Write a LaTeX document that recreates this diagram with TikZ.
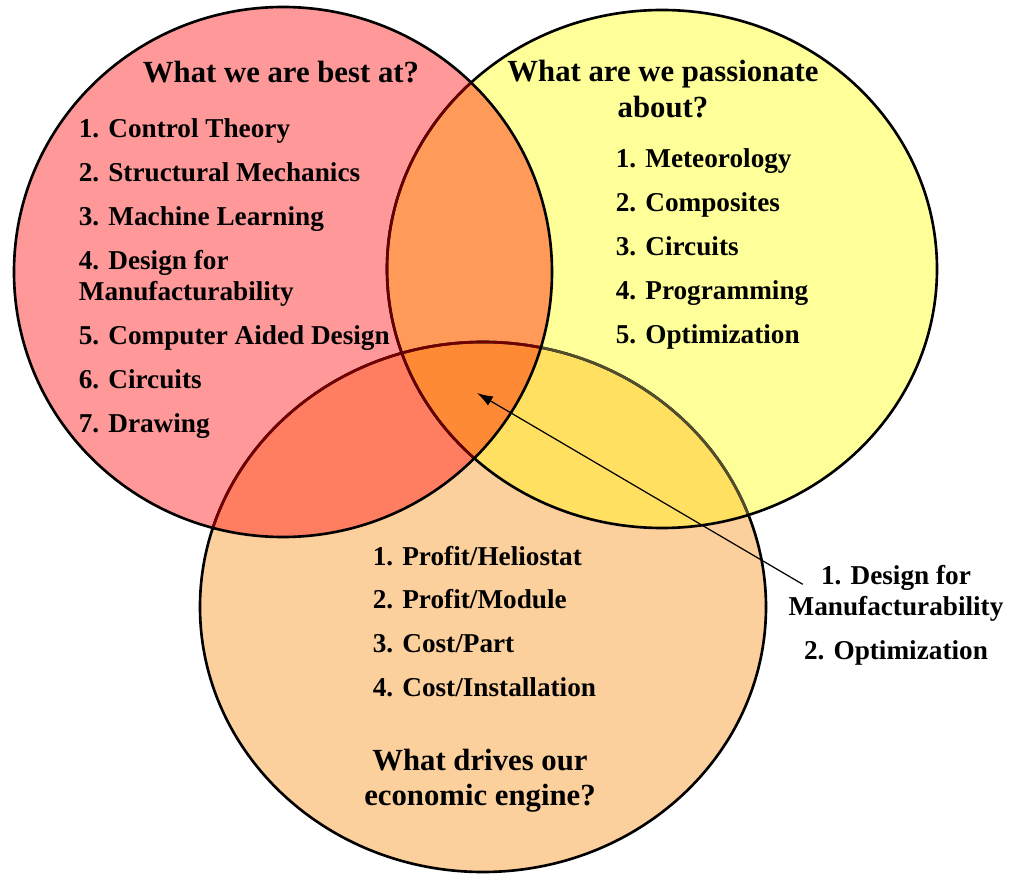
\documentclass[tikz,border=0pt]{standalone}
\usepackage{fontspec}
\setmainfont{Liberation Serif}
\usepackage{xcolor}
\usetikzlibrary{arrows.meta}

\definecolor{bestred}{HTML}{FF9999}
\definecolor{passionyellow}{HTML}{FFFF99}
\definecolor{engineorange}{HTML}{FCD09C}
\definecolor{bestpassion}{HTML}{FF9A58}
\definecolor{bestengine}{HTML}{FF7D60}
\definecolor{passionengine}{HTML}{FFE060}
\definecolor{allthree}{HTML}{FF8A35}

\newcommand{\bestcirc}{(283,272) ellipse [x radius=269, y radius=265]}
\newcommand{\passioncirc}{(662,269) ellipse [x radius=275, y radius=259]}
\newcommand{\enginecirc}{(483,607) ellipse [x radius=283, y radius=265]}

\begin{document}
\begin{tikzpicture}[x=0.02cm,y=-0.02cm,
    txt/.style={font=\fontsize{15.5}{17.5}\selectfont\bfseries,inner sep=2pt},
    title/.style={font=\fontsize{17.5}{20}\selectfont\bfseries,align=center,inner sep=2pt},
    rim/.style={line width=1.5pt}]
  \useasboundingbox (0,0) rectangle (1009,875);

  \fill[bestred] \bestcirc;
  \fill[passionyellow] \passioncirc;
  \fill[engineorange] \enginecirc;
  \begin{scope}
    \clip \bestcirc;
    \fill[bestpassion] \passioncirc;
    \fill[bestengine] \enginecirc;
  \end{scope}
  \begin{scope}
    \clip \passioncirc;
    \fill[passionengine] \enginecirc;
    \clip \bestcirc;
    \fill[allthree] \enginecirc;
  \end{scope}

  % rims, lower ones show through the fills above
  \draw[rim] \enginecirc;
  \begin{scope}
    \clip \passioncirc;
    \draw[rim,color=black!55!olive] \enginecirc;
  \end{scope}
  \begin{scope}
    \clip \bestcirc;
    \draw[rim,color=black!55!red] \enginecirc;
  \end{scope}
  \draw[rim] \passioncirc;
  \begin{scope}
    \clip \bestcirc;
    \draw[rim,color=black!60!red] \passioncirc;
  \end{scope}
  \draw[rim] \bestcirc;

  \node[title] (best) at (281,72) {What we are best at?};
  \node[txt,align=left,anchor=north west] (bestlist) at (75,115)
    {1. Control Theory\\[7.5pt]
     2. Structural Mechanics\\[7.5pt]
     3. Machine Learning\\[7.5pt]
     4. Design for\\
     Manufacturability\\[7.5pt]
     5. Computer Aided Design\\[7.5pt]
     6. Circuits\\[7.5pt]
     7. Drawing};

  \node[title] (passion) at (663,89) {What are we passionate\\about?};
  \node[txt,align=left,anchor=north west] (passionlist) at (612,145)
    {1. Meteorology\\[7.5pt]
     2. Composites\\[7.5pt]
     3. Circuits\\[7.5pt]
     4. Programming\\[7.5pt]
     5. Optimization};

  \node[txt,align=left,anchor=north west] (enginelist) at (369,542)
    {1. Profit/Heliostat\\[7.5pt]
     2. Profit/Module\\[7.5pt]
     3. Cost/Part\\[7.5pt]
     4. Cost/Installation};
  \node[title] (engine) at (480,781) {What drives our\\economic engine?};

  \node[txt,align=center] (overlap) at (896,615)
    {1. Design for\\
     Manufacturability\\[7.5pt]
     2. Optimization};

  \coordinate (core) at (477,393);
  \draw[line width=0.7pt,-{Latex[length=9pt,width=6pt]}]
    ([shift={(18,23)}]overlap.north west) -- (core);
\end{tikzpicture}
\end{document}
